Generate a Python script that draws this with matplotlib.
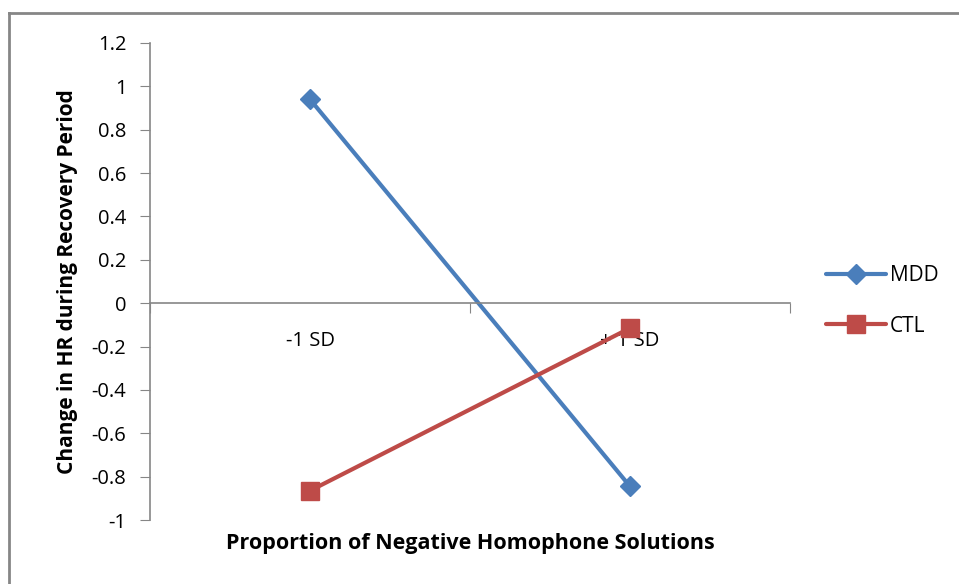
import matplotlib.pyplot as plt
from matplotlib.lines import Line2D

# interaction plot: change in HR by proportion of negative homophone solutions
groups = ['-1 SD', '+ 1 SD']
mdd = [0.94, -0.845]
ctl = [-0.865, -0.115]
yticks = [-1, -0.8, -0.6, -0.4, -0.2, 0, 0.2, 0.4, 0.6, 0.8, 1, 1.2]
ytick_labels = ['-1', '-0.8', '-0.6', '-0.4', '-0.2', '0', '0.2', '0.4', '0.6', '0.8', '1', '1.2']

blue = '#4A7EBB'
red = '#BE4B48'
grey = '#868686'

plt.rcParams['font.family'] = ['Open Sans', 'DejaVu Sans']

W, H = 959, 584
fig = plt.figure(figsize=(W / 100, H / 100), dpi=100)
ax = fig.add_axes([150 / W, 1 - 520 / H, (790 - 150) / W, (520 - 43) / H])

x = list(range(len(groups)))
ax.plot(x, mdd, color=blue, lw=3, marker='D', markersize=10, label='MDD',
        solid_capstyle='round')
ax.plot(x, ctl, color=red, lw=3, marker='s', markersize=13, label='CTL',
        solid_capstyle='round')

ax.set_xlim(-0.5, 1.5)
ax.set_ylim(-1, 1.2)
ax.set_yticks(yticks)
ax.set_yticklabels(ytick_labels, fontsize=14.5)

# x axis crosses at zero, ticks at category boundaries
for s in ['top', 'right']:
    ax.spines[s].set_visible(False)
ax.spines['bottom'].set_position(('data', 0))
for s in ['left', 'bottom']:
    ax.spines[s].set_color(grey)
    ax.spines[s].set_linewidth(1.2)
ax.set_xticks([-0.5, 0.5, 1.5])
ax.set_xticklabels([])
ax.set_xticks(x, minor=True)
ax.set_xticklabels(groups, minor=True, fontsize=14.5)
ax.tick_params(axis='x', which='minor', length=0, pad=20)
ax.tick_params(axis='x', which='major', direction='out', length=7, color=grey)
ax.tick_params(axis='y', direction='out', length=7, color=grey, pad=10)

ax.set_ylabel('Change in HR during Recovery Period', fontsize=15,
              fontweight='bold', labelpad=10)
fig.text(470 / W, 1 - 543 / H, 'Proportion of Negative Homophone Solutions',
         fontsize=15.5, fontweight='bold', ha='center', va='center')

ax.legend(loc='center left', bbox_to_anchor=(826 / W, 1 - 301 / H),
          bbox_transform=fig.transFigure, frameon=False, fontsize=15,
          handlelength=2.9, labelspacing=1.4, handletextpad=0.15,
          borderpad=0, borderaxespad=0)

# chart area border (runs off the right and bottom of the image)
fig.add_artist(Line2D([9 / W, 1.0], [1 - 13 / H, 1 - 13 / H], color=grey, lw=2,
                      transform=fig.transFigure))
fig.add_artist(Line2D([9 / W, 9 / W], [0.0, 1 - 13 / H], color=grey, lw=2,
                      transform=fig.transFigure))

fig.savefig('out.png', dpi=100)
